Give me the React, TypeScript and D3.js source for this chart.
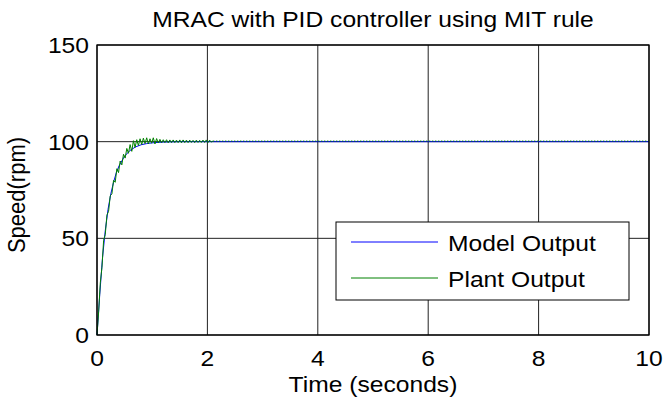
import React from 'react';
import * as d3 from 'd3';

// ticks
const xTicks = [0, 2, 4, 6, 8, 10];
const yTicks = [0, 50, 100, 150];

// model output (reference model response)
const modelTime = [0, 0.05, 0.1, 0.15, 0.2, 0.25, 0.3, 0.35, 0.4, 0.45, 0.5, 0.6, 0.7, 0.8, 0.9, 1.0, 1.2, 1.5, 2, 3, 4, 5, 6, 7, 8, 9, 10];
const modelValue = [0, 21, 40, 54, 65, 73, 79, 84, 87.5, 90, 92.5, 95.5, 97.3, 98.4, 99, 99.4, 99.8, 100, 100, 100, 100, 100, 100, 100, 100, 100, 100];

// plant output, sampled every 0.03 s during transient
const plantStep = 0.03;
const plantValue = [
  0, 12, 27, 35, 49, 52, 62, 64, 72, 73,
  80, 79, 86, 84, 90, 88, 93.5, 91.5, 96.5, 94,
  98.5, 95, 100.5, 97, 101, 98, 101.5, 98.5, 101.8, 99,
  102, 98.8, 101.5, 99.2, 102, 98.8, 101.6, 99.3, 101.2, 99.4,
  101, 99.5, 101, 99.4, 100.9, 99.5, 100.9, 99.5, 100.8, 99.5,
  100.9, 99.4, 100.9, 99.5, 100.8, 99.5, 100.8, 99.6, 100.7, 99.5,
  100.8, 99.6, 100.7, 99.6, 100.8, 99.6, 100.9, 99.5, 100.8, 99.8,
  100.3,
];
// steady-state ripple of the plant after the transient
const plantTailTime = [2.1, 10];
const plantTailValue = [100.3, 100.3];

const W = 664;
const H = 405;
const margin = { top: 45, right: 15, bottom: 70, left: 97 };
const FONT = 'Arial, "Liberation Sans", sans-serif';
const FS = 22;
const SX = 1.12;

const STxt = ({ x, y, anchor = 'middle', rotate = 0, size = FS, children }: any) => (
  <text
    transform={`translate(${x},${y}) scale(${SX},1)${rotate ? ` rotate(${rotate})` : ''}`}
    textAnchor={anchor}
    fontFamily={FONT}
    fontSize={size}
    fill="#000"
  >
    {children}
  </text>
);

const App = () => {
  const x = d3.scaleLinear().domain([0, 10]).range([margin.left, W - margin.right]);
  const y = d3.scaleLinear().domain([0, 150]).range([H - margin.bottom, margin.top]);

  const line = d3.line<[number, number]>().x(d => x(d[0])).y(d => y(d[1]));

  const modelPts = modelTime.map((t, i) => [t, modelValue[i]] as [number, number]);
  const plantPts = plantValue.map((v, i) => [i * plantStep, v] as [number, number]);
  const tailPts = plantTailTime.map((t, i) => [t, plantTailValue[i]] as [number, number]);

  const [x0, x1] = x.range();
  const [y0, y1] = y.range();

  const lgX = 336;
  const lgY = 222;
  const lgW = 293;
  const lgH = 78;

  return (
    <svg width={W} height={H} style={{ position: 'absolute', left: 0, top: 0, background: '#fff' }}>
      <rect x={0} y={0} width={W} height={H} fill="#fff" />
      {/* grid */}
      {xTicks.map(t => (
        <line key={'gx' + t} x1={x(t)} x2={x(t)} y1={y1} y2={y0} stroke="#222" strokeWidth={1} />
      ))}
      {yTicks.map(t => (
        <line key={'gy' + t} x1={x0} x2={x1} y1={y(t)} y2={y(t)} stroke="#222" strokeWidth={1} />
      ))}

      {/* series */}
      <path d={line(modelPts) || ''} fill="none" stroke="#0000ff" strokeWidth={1} />
      <path d={line(plantPts) || ''} fill="none" stroke="#008000" strokeWidth={1} />
      <path d={line(tailPts) || ''} fill="none" stroke="#008000" strokeWidth={1} strokeDasharray="1.5,1.5" />

      {/* frame */}
      <rect x={x0} y={y1} width={x1 - x0} height={y0 - y1} fill="none" stroke="#000" strokeWidth={1.3} />

      {/* tick labels */}
      {xTicks.map(t => (
        <STxt key={'tx' + t} x={x(t)} y={y0 + 31}>{t}</STxt>
      ))}
      {yTicks.map(t => (
        <STxt key={'ty' + t} x={x0 - 8} y={y(t) + 8} anchor="end">{t}</STxt>
      ))}

      {/* labels */}
      <STxt x={(x0 + x1) / 2} y={27}>MRAC with PID controller using MIT rule</STxt>
      <STxt x={(x0 + x1) / 2} y={392}>Time (seconds)</STxt>
      <STxt x={25} y={195} rotate={-90}>Speed(rpm)</STxt>

      {/* legend */}
      <rect x={lgX} y={lgY} width={lgW} height={lgH} fill="#fff" stroke="#000" strokeWidth={1} />
      <line x1={lgX + 15} x2={lgX + 102} y1={lgY + 20} y2={lgY + 20} stroke="#0000ff" strokeWidth={1} />
      <line x1={lgX + 15} x2={lgX + 102} y1={lgY + 56} y2={lgY + 56} stroke="#008000" strokeWidth={1} />
      <STxt x={lgX + 112} y={lgY + 29} anchor="start">Model Output</STxt>
      <STxt x={lgX + 112} y={lgY + 65} anchor="start">Plant Output</STxt>
    </svg>
  );
};

export default App;
